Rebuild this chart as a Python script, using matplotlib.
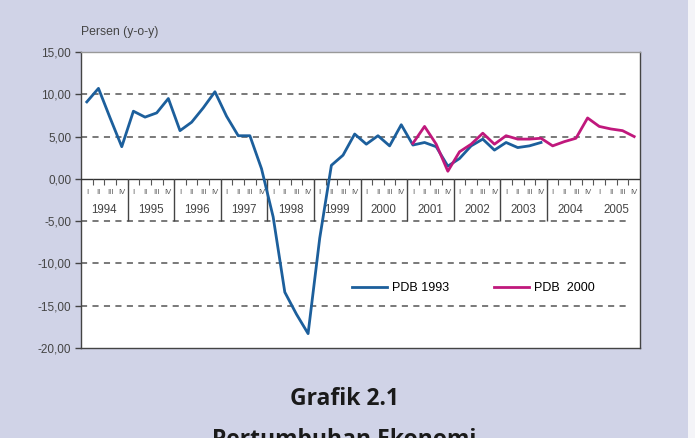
import numpy as np
import matplotlib
matplotlib.use("Agg")
import matplotlib.pyplot as plt

plt.rcParams['font.family'] = ['Liberation Sans', 'DejaVu Sans']

# data: quarterly GDP growth (y-o-y), 1994Q1 - 2005Q4
years = [str(y) for y in range(1994, 2006)]
quarter_labels = ["I", "II", "III", "IV"]

pdb_1993 = [9.1, 10.7, 7.2, 3.8,
            8.0, 7.3, 7.8, 9.5,
            5.7, 6.7, 8.4, 10.3,
            7.4, 5.1, 5.1, 1.2,
            -4.5, -13.4, -16.0, -18.3,
            -7.0, 1.6, 2.8, 5.3,
            4.1, 5.1, 3.9, 6.4,
            4.0, 4.3, 3.8, 1.5,
            2.4, 3.9, 4.7, 3.4,
            4.3, 3.7, 3.9, 4.3]

pdb_2000 = [4.2, 6.2, 4.1, 0.9,
            3.2, 4.1, 5.4, 4.1,
            5.1, 4.7, 4.7, 4.8,
            3.9, 4.4, 4.8, 7.2,
            6.2, 5.9, 5.7, 5.0]

yticks = [15, 10, 5, 0, -5, -10, -15, -20]

bg = '#d0d3e7'
blue = '#1c5f9c'
pink = '#c0187c'

fig = plt.figure(figsize=(6.95, 4.38), dpi=100, facecolor=bg)
ax = fig.add_axes([81/695, 1-348/438, 559/695, 296/438])

n = len(years) * 4
xq = np.arange(n) + 0.5
ax.plot(xq[:len(pdb_1993)], pdb_1993, color=blue, lw=2.0, label='PDB 1993', zorder=4)
ax.plot(xq[n-len(pdb_2000):], pdb_2000, color=pink, lw=2.0, label='PDB  2000', zorder=5)

ax.set_xlim(0, n)
ax.set_ylim(-20, 15)

# dashed grid
for v in [15, 10, 5, -5, -10, -15]:
    ax.hlines(v, 0, n - 1, colors='#555555', linestyles=(0, (4, 3.5)), lw=1.1, zorder=2)
ax.axhline(0, color='#333333', lw=1.0, zorder=3)

# quarter ticks, quarter labels and year separators
for i in range(1, n):
    ax.vlines(i, -0.75, 0, colors='#555555', lw=0.8, zorder=3)
for i in range(n):
    ax.text(i + 0.5, -1.65, quarter_labels[i % 4], ha='center', va='center',
            fontsize=5.5, color='#555555')
for k, yr in enumerate(years):
    ax.text(k*4 + 2, -3.7, yr, ha='center', va='center', fontsize=8.3, color='#444444')
    if 0 < k < len(years) - 1:
        ax.vlines(k*4, -4.95, 0, colors='#444444', lw=1.0, zorder=3)

ax.set_xticks([])
ax.set_yticks(yticks)
ax.set_yticklabels([f"{v:.2f}".replace('.', ',') for v in yticks], fontsize=8.5, color='#444444')
ax.tick_params(axis='y', direction='out', length=4, width=1, color='#444444', pad=3)

for s in ['left', 'bottom', 'right']:
    ax.spines[s].set_color('#444444')
    ax.spines[s].set_linewidth(1.0)
ax.spines['top'].set_color('#999999')
ax.spines['top'].set_linewidth(1.0)

ax.legend(loc='center left', bbox_to_anchor=(0.485, 0.203), ncol=2, frameon=False,
          fontsize=9, handlelength=2.8, handletextpad=0.4, columnspacing=3.6,
          borderpad=0, borderaxespad=0)

fig.text(81/695, 1-32/438, "Persen (y-o-y)", fontsize=8.8, color='#444444', va='center', ha='left')

fig.patches.append(plt.Rectangle((688/695, 0), 7/695, 1, transform=fig.transFigure,
                                 facecolor='#f4f4f8', edgecolor='none'))

fig.text(0.495, 1-405/438, "Grafik 2.1", fontsize=16.5, fontweight='bold', family='Open Sans',
         color='#1a1a1a', ha='center', va='baseline')
fig.text(0.495, 1-446/438, "Pertumbuhan Ekonomi", fontsize=16.5, fontweight='bold', family='Open Sans',
         color='#1a1a1a', ha='center', va='baseline')

fig.savefig("out.png", dpi=100, facecolor=bg)
